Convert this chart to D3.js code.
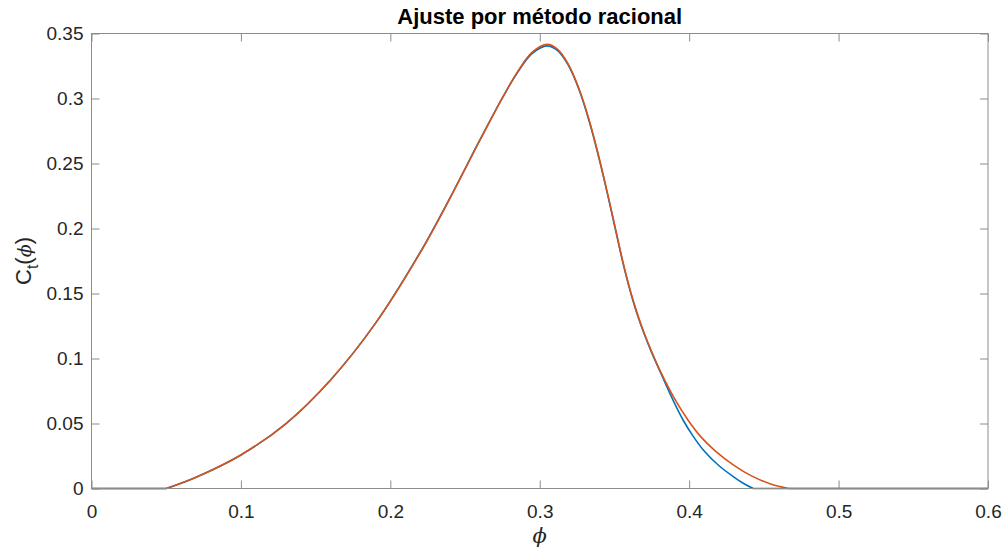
<!DOCTYPE html>
<html><head><meta charset="utf-8">
<script src="https://cdn.jsdelivr.net/npm/d3@7"></script>
<style>
body{margin:0;background:#fff;}
text{font-family:"Liberation Sans",Arial,Helvetica,sans-serif;}
</style></head>
<body><svg id="c" width="1005" height="550"></svg>
<script>
const title = "Ajuste por método racional";
const xTicks = [0, 0.1, 0.2, 0.3, 0.4, 0.5, 0.6];
const yTicks = [0, 0.05, 0.1, 0.15, 0.2, 0.25, 0.3, 0.35];
const xTickLabels = ["0","0.1","0.2","0.3","0.4","0.5","0.6"];
const yTickLabels = ["0","0.05","0.1","0.15","0.2","0.25","0.3","0.35"];

// Orange series (rational fit)
const phiOrange = [0, 0.05, 0.07, 0.10, 0.13, 0.16, 0.19, 0.22, 0.24, 0.26, 0.275, 0.285, 0.295, 0.305, 0.312, 0.319, 0.326, 0.333, 0.340, 0.347, 0.3548, 0.358, 0.362, 0.366, 0.370, 0.375, 0.3815, 0.39, 0.3993, 0.408, 0.4172, 0.43, 0.4417, 0.455, 0.4665, 0.6];
const cOrange   = [0, 0, 0.0087, 0.0258, 0.0498, 0.0835, 0.127, 0.1814, 0.2234, 0.2679, 0.3005, 0.3203, 0.3356, 0.3416, 0.3378, 0.3266, 0.3084, 0.2836, 0.2531, 0.2188, 0.1785, 0.1635, 0.1467, 0.1321, 0.1193, 0.105, 0.0883, 0.0695, 0.0525, 0.0395, 0.0292, 0.0178, 0.0097, 0.0033, 0, 0];
// Blue series (original curve)
const phiBlue = [0, 0.05, 0.07, 0.10, 0.13, 0.16, 0.19, 0.22, 0.24, 0.26, 0.275, 0.285, 0.295, 0.305, 0.312, 0.319, 0.326, 0.333, 0.340, 0.347, 0.3548, 0.358, 0.362, 0.366, 0.370, 0.375, 0.3815, 0.39, 0.396, 0.4025, 0.4096, 0.42, 0.4297, 0.437, 0.443, 0.6];
const cBlue   = [0, 0, 0.0087, 0.0258, 0.0498, 0.0835, 0.127, 0.1818, 0.2238, 0.2683, 0.3005, 0.3198, 0.3347, 0.3405, 0.3368, 0.3258, 0.3077, 0.2829, 0.2524, 0.2181, 0.1778, 0.1628, 0.146, 0.1314, 0.1186, 0.1043, 0.0875, 0.066, 0.0525, 0.0405, 0.0295, 0.0175, 0.009, 0.0035, 0, 0];

const L = 91.5, R = 988, T = 33.5, B = 488.5;
const svg = d3.select("#c");
const x = d3.scaleLinear().domain([0, 0.6]).range([L, R]);
const y = d3.scaleLinear().domain([0, 0.35]).range([B, T]);
const axisCol = "#8c8c8c", textCol = "#262626";

svg.append("defs").append("clipPath").attr("id","clip").append("rect")
  .attr("x", L).attr("y", T-3).attr("width", R-L).attr("height", B-T+6);

// flat zero parts straight, curved hump smooth
function buildPath(phi, c) {
  const pts = phi.map((p,i)=>[p,c[i]]);
  let i0 = 0; while (i0+1 < pts.length && pts[i0+1][1] === 0) i0++;
  let i1 = pts.length-1; while (i1-1 > 0 && pts[i1-1][1] === 0) i1--;
  const straight = d3.line().x(d=>x(d[0])).y(d=>y(d[1]));
  const smooth = d3.line().x(d=>x(d[0])).y(d=>y(d[1])).curve(d3.curveCatmullRom.alpha(0.5));
  return straight(pts.slice(0, i0+1)) + smooth(pts.slice(i0, i1+1)).replace(/^M/, "L") + straight(pts.slice(i1)).replace(/^M/, "L");
}
const g = svg.append("g").attr("clip-path","url(#clip)");
g.append("path").attr("d", buildPath(phiBlue, cBlue))
  .attr("fill","none").attr("stroke","#0072BD").attr("stroke-width",1.6);
g.append("path").attr("d", buildPath(phiOrange, cOrange))
  .attr("fill","none").attr("stroke","#D95319").attr("stroke-width",1.6);

// box
svg.append("rect").attr("x",L).attr("y",T).attr("width",R-L).attr("height",B-T)
  .attr("fill","none").attr("stroke",axisCol).attr("stroke-width",1);

const tl = 8;
const xb = svg.append("g").attr("transform",`translate(0,${B})`)
  .call(d3.axisBottom(x).tickValues(xTicks).tickSize(-tl).tickPadding(16).tickFormat((d,i)=>xTickLabels[i]));
const xt = svg.append("g").attr("transform",`translate(0,${T})`)
  .call(d3.axisTop(x).tickValues(xTicks).tickSize(-tl).tickFormat(""));
const yl = svg.append("g").attr("transform",`translate(${L},0)`)
  .call(d3.axisLeft(y).tickValues(yTicks).tickSize(-tl).tickPadding(8).tickFormat((d,i)=>yTickLabels[i]));
const yr = svg.append("g").attr("transform",`translate(${R},0)`)
  .call(d3.axisRight(y).tickValues(yTicks).tickSize(-tl).tickFormat(""));
[xb,xt,yl,yr].forEach(a=>{
  a.select(".domain").remove();
  a.selectAll("line").attr("stroke",axisCol);
  a.selectAll("text").attr("fill",textCol).style("font-size","19px")
   .style("font-family",'"Liberation Sans",Arial,sans-serif');
});

// title
svg.append("text").attr("x",(L+R)/2).attr("y",24).attr("text-anchor","middle")
  .style("font-size","22px").style("font-weight","bold").attr("fill","#000").text(title);

// x label
svg.append("text").attr("x",(L+R)/2).attr("y",543).attr("text-anchor","middle")
  .style("font-size","21px").style("font-style","italic").style("font-family",'"DejaVu Serif",serif')
  .attr("fill",textCol).text("ϕ");

// y label
const ylab = svg.append("text").attr("transform",`translate(31,${(T+B)/2}) rotate(-90)`)
  .attr("text-anchor","middle").attr("fill",textCol).style("font-size","22px");
ylab.append("tspan").text("C");
ylab.append("tspan").attr("dy",7).style("font-size","16px").text("t");
ylab.append("tspan").attr("dy",-7).text("(");
ylab.append("tspan").style("font-style","italic").style("font-family",'"DejaVu Serif",serif').style("font-size","19px").text("ϕ");
ylab.append("tspan").text(")");
</script></body></html>
